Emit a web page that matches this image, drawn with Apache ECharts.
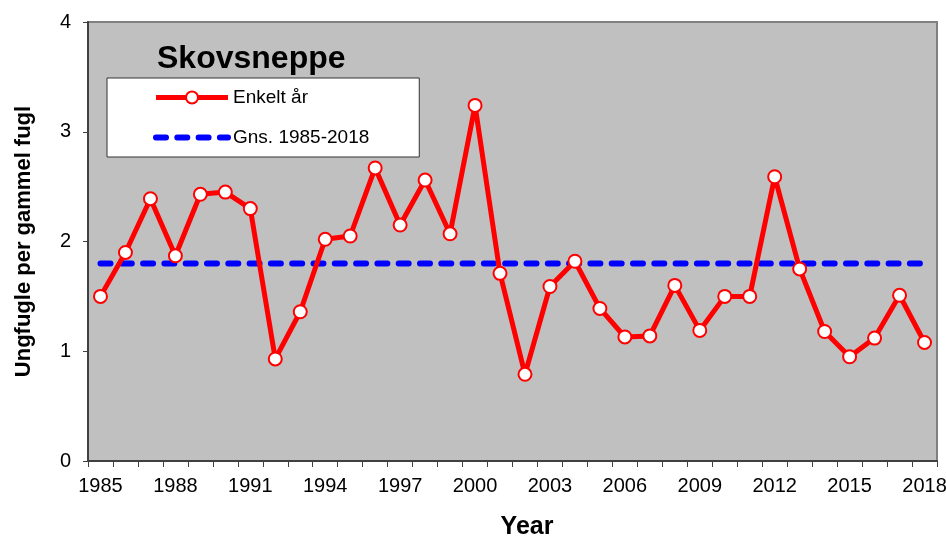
<!DOCTYPE html>
<html>
<head>
<meta charset="utf-8">
<script src="https://cdn.jsdelivr.net/npm/echarts@6/dist/echarts.min.js"></script>
<style>
  html, body { margin: 0; padding: 0; background: #fff; }
  #chart { width: 946px; height: 538px; }
</style>
</head>
<body>
<div id="chart"></div>
<script>
// years on the x axis
const years = ['1985', '1986', '1987', '1988', '1989', '1990', '1991', '1992', '1993', '1994',
  '1995', '1996', '1997', '1998', '1999', '2000', '2001', '2002', '2003', '2004',
  '2005', '2006', '2007', '2008', '2009', '2010', '2011', '2012', '2013', '2014',
  '2015', '2016', '2017', '2018'];

// young birds per adult bird
const enkeltAar = [1.50, 1.90, 2.39, 1.87, 2.43, 2.45, 2.30, 0.93, 1.36, 2.02,
  2.05, 2.67, 2.15, 2.56, 2.07, 3.24, 1.71, 0.79, 1.59, 1.82,
  1.39, 1.13, 1.14, 1.60, 1.19, 1.50, 1.50, 2.59, 1.75, 1.18,
  0.95, 1.12, 1.51, 1.08];

// average 1985-2018
const gnsValue = 1.8;
const gns = years.map(() => gnsValue);

const font = 'Liberation Sans, Arial, sans-serif';
const dash = [10, 11.3];

const chart = echarts.init(document.getElementById('chart'));
chart.setOption({
  animation: false,
  textStyle: { fontFamily: font },
  title: {
    text: 'Skovsneppe',
    left: 157,
    top: 43,
    padding: 0,
    textStyle: { fontSize: 32, fontWeight: 'bold', color: '#000', fontFamily: font }
  },
  legend: {
    left: 107,
    top: 78,
    orient: 'vertical',
    padding: [10, 50, 10, 46],
    itemGap: 21,
    itemWidth: 72,
    itemHeight: 15,
    backgroundColor: '#fff',
    borderColor: '#333',
    borderWidth: 1,
    textStyle: { fontSize: 19, color: '#000', fontFamily: font },
    data: [
      { name: 'Enkelt år', lineStyle: { width: 5, color: '#FF0000' } },
      { name: 'Gns. 1985-2018', lineStyle: { width: 6, color: '#0000FF', type: dash, cap: 'round' }, itemStyle: { opacity: 0 } }
    ]
  },
  grid: {
    left: 88,
    right: 9,
    top: 22,
    bottom: 77,
    containLabel: false,
    outerBoundsMode: 'none',
    show: true,
    backgroundColor: '#C0C0C0',
    borderColor: '#808080',
    borderWidth: 2
  },
  xAxis: {
    type: 'category',
    data: years,
    boundaryGap: true,
    name: 'Year',
    nameLocation: 'middle',
    nameGap: 54,
    nameTextStyle: { fontSize: 25, fontWeight: 'bold', color: '#000', padding: [0, 0, 0, 29] },
    axisLine: { lineStyle: { color: '#404040', width: 2 } },
    axisTick: { show: true, interval: 0, length: 6, lineStyle: { color: '#404040' } },
    axisLabel: { interval: 2, fontSize: 20, color: '#000', margin: 15 },
    splitLine: { show: false }
  },
  yAxis: {
    type: 'value',
    min: 0,
    max: 4,
    interval: 1,
    name: 'Ungfugle per gammel fugl',
    nameLocation: 'middle',
    nameGap: 53,
    nameTextStyle: { fontSize: 22, fontWeight: 'bold', color: '#000' },
    axisLine: { show: true, lineStyle: { color: '#404040', width: 2 } },
    axisTick: { show: true, length: 5, lineStyle: { color: '#404040' } },
    axisLabel: { fontSize: 20, color: '#000', margin: 17 },
    splitLine: { show: false }
  },
  series: [
    {
      name: 'Gns. 1985-2018',
      type: 'line',
      data: gns,
      symbol: 'none',
      z: 2,
      lineStyle: { color: '#0000FF', width: 6, type: dash, cap: 'round' },
      itemStyle: { color: '#0000FF' }
    },
    {
      name: 'Enkelt år',
      type: 'line',
      data: enkeltAar,
      symbol: 'circle',
      symbolSize: 13,
      z: 3,
      lineStyle: { color: '#FF0000', width: 5 },
      itemStyle: { color: '#fff', borderColor: '#FF0000', borderWidth: 2 }
    }
  ]
});
</script>
</body>
</html>
